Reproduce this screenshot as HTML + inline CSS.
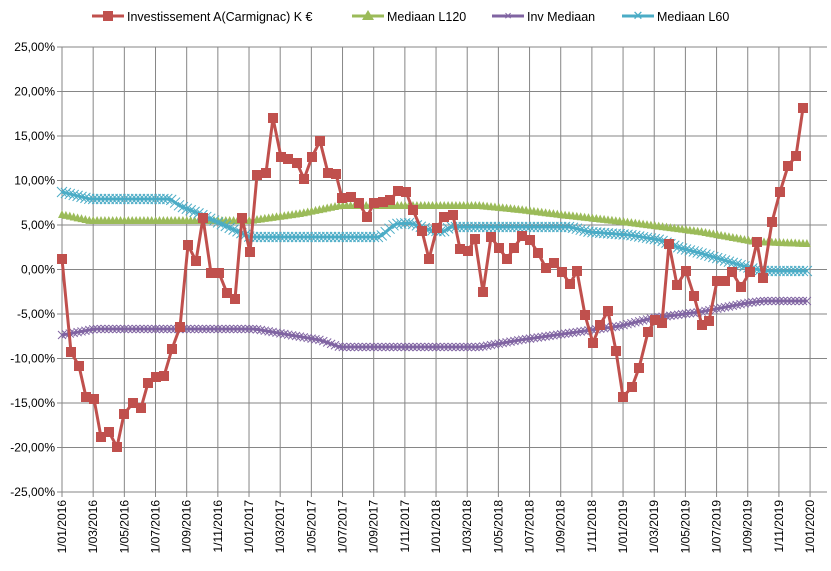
<!DOCTYPE html>
<html><head><meta charset="utf-8"><style>
body{margin:0;background:#fff}
svg{display:block;font-family:"Liberation Sans",sans-serif}
</style></head><body>
<svg id="s" width="831" height="571" xmlns="http://www.w3.org/2000/svg">
<g id="grid" stroke="#868686" stroke-width="1"></g>
<g id="lab" font-size="12" fill="#000"></g>
<g id="ser"></g>
<g font-size="12.5" fill="#000">
<line x1="92" y1="16" x2="124" y2="16" stroke="#C0504D" stroke-width="3"/><rect x="103" y="11" width="10" height="10" fill="#C0504D"/>
<text x="127" y="21">Investissement A(Carmignac) K €</text>
<line x1="352" y1="16" x2="384" y2="16" stroke="#9BBB59" stroke-width="3"/><polygon points="368,10 374,20 362,20" fill="#9BBB59"/>
<text x="387" y="21">Mediaan L120</text>
<line x1="492" y1="16" x2="524" y2="16" stroke="#8064A2" stroke-width="3"/><text x="508" y="20" text-anchor="middle" fill="#8064A2" font-size="13">×</text>
<text x="527" y="21">Inv Mediaan</text>
<line x1="622" y1="16" x2="654" y2="16" stroke="#4BACC6" stroke-width="3"/><text x="638" y="20" text-anchor="middle" fill="#4BACC6" font-size="13">✕</text>
<text x="657" y="21">Mediaan L60</text>
</g>
</svg>
<script>
const NS="http://www.w3.org/2000/svg";
function el(p,t,a,txt){const e=document.createElementNS(NS,t);for(const k in a)e.setAttribute(k,a[k]);if(txt!==undefined)e.textContent=txt;p.appendChild(e);return e;}
const g=document.getElementById('grid'),lab=document.getElementById('lab'),ser=document.getElementById('ser');
const L=62,R=827,T=47,B=492;
const ylabs=["25,00%","20,00%","15,00%","10,00%","5,00%","0,00%","-5,00%","-10,00%","-15,00%","-20,00%","-25,00%"];
for(let i=0;i<=10;i++){const y=T+i*44.5;el(g,'line',{x1:L-5,y1:y,x2:R,y2:y});el(lab,'text',{x:55,y:y+4,'text-anchor':'end'},ylabs[i]);}
const xl=[];for(let yr=2016;yr<=2019;yr++)for(const m of["01","03","05","07","09","11"])xl.push("1/"+m+"/"+yr);xl.push("1/01/2020");
for(let i=0;i<xl.length;i++){const x=L+i*31.17;el(g,'line',{x1:x,y1:T,x2:x,y2:B+5});el(lab,'text',{transform:`translate(${x+4},${B+8}) rotate(-90)`,'text-anchor':'end'},xl[i]);}
function interp(pts,x){for(let i=0;i<pts.length-1;i++){if(x>=pts[i][0]&&x<=pts[i+1][0]){const t=(x-pts[i][0])/(pts[i+1][0]-pts[i][0]);return pts[i][1]+t*(pts[i+1][1]-pts[i][1]);}}return pts[pts.length-1][1];}
function weekly(pts,col,mk){const arr=[];for(let x=62;x<=807.5;x+=3.9)arr.push([x,interp(pts,x)]);
el(ser,'polyline',{points:arr.map(p=>p.join(',')).join(' '),fill:'none',stroke:col,'stroke-width':3});
for(const [x,y] of arr){if(mk==='tri')el(ser,'polygon',{points:`${x},${y-6} ${x+4},${y+2} ${x-4},${y+2}`,fill:col});
else{const s=mk==='x'?4:5;el(ser,'path',{d:`M${x-s},${y-s}L${x+s},${y+s}M${x-s},${y+s}L${x+s},${y-s}`,stroke:col,'stroke-width':1,fill:'none'});}}}
weekly([[62,335],[95,329],[255,329],[290,335],[320,340],[340,347],[480,347],[497,344],[520,340],[570,333],[620,326],[653,318],[700,312],[747,303],[763,301],[807,301]],'#8064A2','x');
weekly([[62,216],[90,222],[250,222],[300,215],[340,207],[480,207],[520,211],[560,216],[623,223],[700,233],[755,243],[807,245]],'#9BBB59','tri');
weekly([[62,192],[90,199],[170,199],[180,206],[200,214],[230,228],[250,237],[380,237],[395,224],[410,223],[430,230],[443,232],[450,227],[570,227],[590,232],[630,235],[660,240],[680,248],[700,253],[730,262],[750,268],[765,271],[807,271]],'#4BACC6','cx');
const red=[[62,259],[71,352],[79,366],[86,397],[94,399],[101,437],[109,432],[117,447],[124,414],[133,403],[141,408],[148,383],[156,377],[164,376],[172,349],[180,327],[188,245],[196,261],[203,218],[211,273],[219,273],[227,293],[235,299],[242,218],[250,252],[257,175],[266,173],[273,118],[281,157],[288,159],[297,163],[304,179],[312,157],[320,141],[328,173],[336,174],[342,198],[351,197],[359,203],[367,217],[374,203],[383,202],[390,200],[398,191],[406,192],[413,210],[422,231],[429,259],[437,228],[444,217],[453,215],[460,249],[468,251],[475,239],[483,292],[491,237],[499,248],[507,259],[514,248],[522,236],[530,240],[538,253],[546,268],[554,263],[562,272],[570,284],[577,271],[585,315],[593,343],[600,325],[608,311],[616,351],[623,397],[632,387],[639,368],[648,332],[655,320],[662,323],[669,244],[677,285],[686,271],[694,296],[702,325],[709,321],[717,281],[725,281],[732,272],[741,287],[750,272],[757,242],[763,278],[772,222],[780,192],[788,166],[796,156],[803,108]];
el(ser,'polyline',{points:red.map(p=>p.join(',')).join(' '),fill:'none',stroke:'#C0504D','stroke-width':3});
for(const [x,y] of red)el(ser,'rect',{x:x-5,y:y-5,width:10,height:10,fill:'#C0504D'});
</script>
</body></html>
